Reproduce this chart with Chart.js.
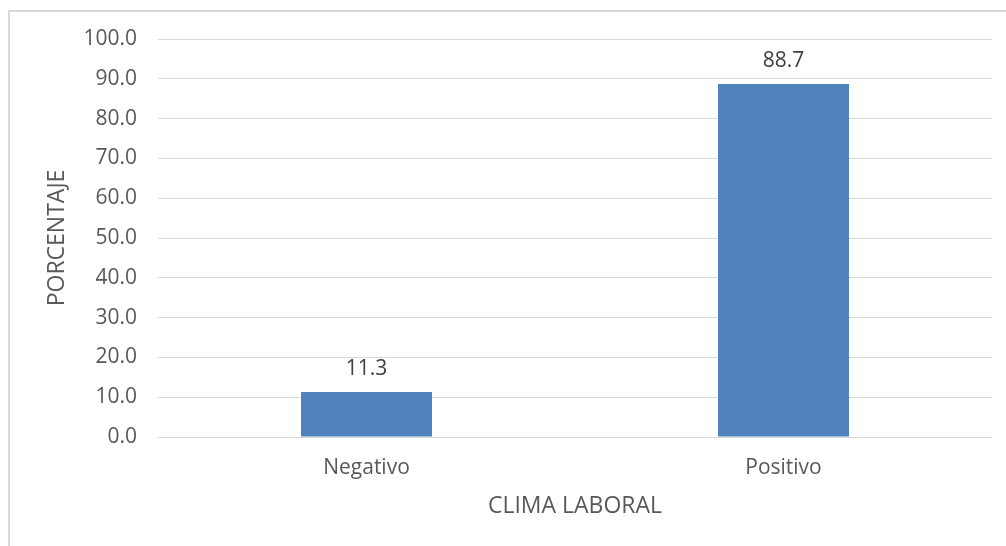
<!DOCTYPE html>
<html>
<head>
<meta charset="utf-8">
<script src="https://cdn.jsdelivr.net/npm/chart.js@4/dist/chart.umd.min.js"></script>
<style>
  html, body { margin: 0; padding: 0; background: #ffffff; }
  #wrap { position: relative; width: 1006px; height: 546px; overflow: hidden; }
  #frame { position: absolute; left: 8px; top: 10px; width: 1020px; height: 560px; border: 2px solid #d9d9d9; box-sizing: border-box; pointer-events: none; }
  canvas { position: absolute; left: 0; top: 0; }
</style>
</head>
<body>
<div id="wrap">
  <canvas id="c" width="1006" height="546"></canvas>
  <div id="frame"></div>
</div>
<script>
const categories = ["Negativo", "Positivo"];
const values = [11.3, 88.7];
const yTicks = [0, 10, 20, 30, 40, 50, 60, 70, 80, 90, 100];
const xTitle = "CLIMA LABORAL";
const yTitle = "PORCENTAJE";

const FONT = "'Open Sans', 'Noto Sans', sans-serif";

const labelPlugin = {
  id: 'barLabels',
  afterDatasetsDraw(chart) {
    const ctx = chart.ctx;
    const meta = chart.getDatasetMeta(0);
    ctx.save();
    ctx.font = "21px " + FONT;
    ctx.fillStyle = "#404040";
    ctx.textAlign = "center";
    ctx.textBaseline = "alphabetic";
    meta.data.forEach((bar, i) => {
      ctx.fillText(values[i].toFixed(1), bar.x, bar.y - 17);
    });
    ctx.restore();
  }
};

new Chart(document.getElementById('c'), {
  type: 'bar',
  data: {
    labels: categories,
    datasets: [{
      data: values,
      backgroundColor: '#4f81bd',
      borderWidth: 0,
      categoryPercentage: 1.0,
      barPercentage: 0.314
    }]
  },
  options: {
    responsive: false,
    animation: false,
    devicePixelRatio: 1,
    layout: { padding: { left: 0, top: 39, right: 14, bottom: 0 } },
    plugins: { legend: { display: false }, tooltip: { enabled: false } },
    scales: {
      x: {
        grid: { display: false, drawTicks: false },
        border: { display: false },
        ticks: { color: '#595959', font: { family: FONT, size: 21 }, padding: 18 },
        title: { display: true, text: xTitle, color: '#595959', font: { family: FONT, size: 23 }, padding: { top: 0, bottom: 26 } },
        afterFit(s) { s.height = 109; }
      },
      y: {
        min: 0, max: 100,
        afterBuildTicks(s) { s.ticks = yTicks.map(v => ({ value: v })); },
        grid: { color: '#d9d9d9', lineWidth: 1, drawTicks: false },
        border: { display: false },
        ticks: { color: '#595959', font: { family: FONT, size: 21 }, padding: 21, callback: v => Number(v).toFixed(1) },
        title: { display: true, text: yTitle, color: '#595959', font: { family: FONT, size: 23 }, padding: { top: 44, bottom: 0 } },
        afterFit(s) { s.width = 158; }
      }
    }
  },
  plugins: [labelPlugin]
});
</script>
</body>
</html>
